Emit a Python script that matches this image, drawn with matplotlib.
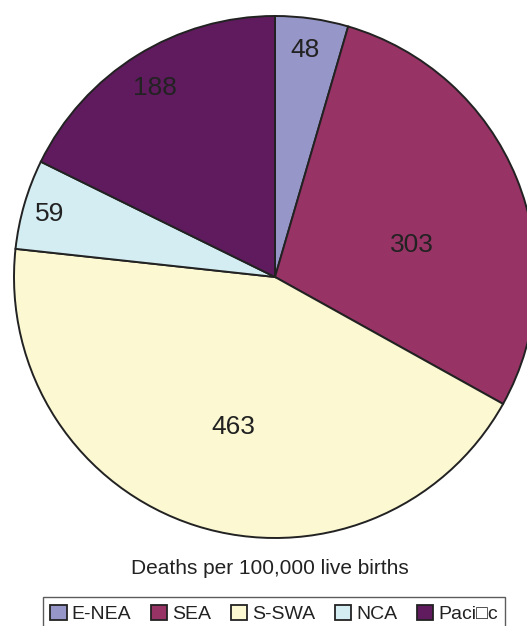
import matplotlib.pyplot as plt
from matplotlib.patches import Patch

plt.rcParams['font.family'] = ['Liberation Sans', 'DejaVu Sans']

regions = ['E-NEA', 'SEA', 'S-SWA', 'NCA', 'Paci\u25a1c']
deaths = [48, 303, 463, 59, 188]
colors = ['#9696c8', '#983366', '#fbf8d2', '#d3edf3', '#5f1b5e']

# label spots in pixels from top-left
label_xy = [(305, 50), (412, 245), (233, 427), (50, 214), (155, 88)]

W, H = 527, 626
fig = plt.figure(figsize=(W / 100, H / 100), dpi=100)
ax = fig.add_axes([0, 0, 1, 1])

cx, cy, r = 275, H - 277, 261
ax.pie(deaths, colors=colors, startangle=90, counterclock=False,
       center=(cx, cy), radius=r, frame=True,
       wedgeprops=dict(edgecolor='#222222', linewidth=1.4))
ax.set_xlim(0, W)
ax.set_ylim(0, H)
ax.set_aspect('equal')
ax.axis('off')

for val, (x, y) in zip(deaths, label_xy):
    ax.text(x, H - y, str(val), ha='center', va='center',
            fontsize=19, color='#222222')

ax.text(270, H - 569, 'Deaths per 100,000 live births', ha='center',
        va='center', fontsize=15, color='#222222')

handles = [Patch(facecolor=c, edgecolor='#222222', linewidth=1.3) for c in colors]
leg = fig.legend(handles, regions, loc='upper center', ncol=5,
                 bbox_to_anchor=(274 / W, (H - 597) / H),
                 fontsize=14, frameon=True, fancybox=False,
                 edgecolor='#333333', handlelength=0.85, handleheight=0.8,
                 handletextpad=0.25, columnspacing=1.0, borderpad=0.4,
                 borderaxespad=0)
leg.get_frame().set_linewidth(1.0)
for t in leg.get_texts():
    t.set_color('#222222')

fig.savefig('out.png', dpi=100)
